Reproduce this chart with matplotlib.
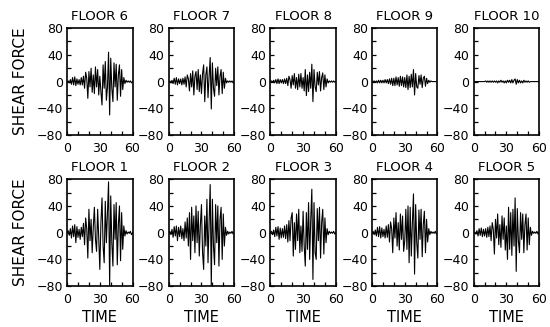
import numpy as np
import matplotlib.pyplot as plt
from matplotlib.ticker import MultipleLocator, FixedLocator

# sample times (s), one per second from 0 to 60
time_s = np.arange(0, 61, 1)

# shear force, one row = 10 s
floor_1 = [0, 3, -4, 6, -8, 10, -6, 12, -15, 9,
           -7, 5, -10, 8, -6, 14, -18, 22, 6, -38,
           35, -12, 20, -30, 8, 38, -10, -28, 35, -8,
           -55, 15, 52, -20, -45, 47, -15, 30, 76, -80,
           55, -15, -50, 42, -10, 45, -48, 12, 40, -42,
           30, -25, 10, -5, 3, -2, 1, -1, 2, -3,
           0]
floor_2 = [0, 2, -3, 5, -7, 9, -5, 10, -12, 8,
           -6, 10, -9, 6, -12, 16, -8, 22, -20, 30,
           -40, 38, -12, 25, -30, 40, -15, 32, -35, 12,
           42, -30, -55, 25, -20, 50, -45, 15, 72, -80,
           50, -20, -48, 42, -15, 40, -50, 20, 38, -40,
           28, -20, 8, -4, 2, -2, 1, -1, 2, -2,
           0]
floor_3 = [0, 2, -3, 4, -6, 8, -5, 9, -10, 7,
           -8, 6, -7, 10, -9, 12, -14, 18, -12, 22,
           30, -35, 15, -25, 28, -12, 35, -30, 10, -28,
           32, -20, -50, 30, -25, 45, -40, 20, 65, -70,
           45, -30, -40, 36, -12, 38, -38, 15, 35, -32,
           22, -15, 6, -3, 2, -1, 1, -1, 2, -2,
           0]
floor_4 = [0, 2, -3, 4, -5, 8, -6, 9, -8, 7,
           -6, 5, -8, 10, -7, 12, -14, 16, 6, -30,
           22, -8, 30, -20, 15, -26, 28, -10, 25, -28,
           -12, 35, -25, 40, -45, 38, -35, 15, 58, -62,
           42, -15, -38, 34, -10, 35, -36, 12, 32, -30,
           20, -14, 6, -3, 2, -1, 1, -1, 2, -2,
           0]
floor_5 = [0, 1, -2, 3, -5, 6, -4, 7, -6, 5,
           -5, 6, -7, 8, -6, 10, -12, 15, 5, -32,
           20, -8, 28, -18, 12, -22, 25, -10, 22, -26,
           10, -40, 38, -25, 30, -34, 35, -20, 52, -58,
           36, -12, -30, 30, -10, 28, -30, 12, 28, -26,
           22, -18, 8, -4, 2, -1, 1, -1, 2, -2,
           0]
floor_6 = [0, 1, -2, 3, -4, 6, -5, 7, -6, 4,
           -4, 3, -5, 6, -5, 8, -10, 14, 5, -25,
           15, -8, 20, -16, 10, -18, 22, -8, 18, -20,
           8, -15, -35, 25, -10, 30, -28, -8, 44, -50,
           35, -10, -30, 28, -8, 26, -28, 10, 25, -22,
           18, -12, 6, -3, 2, -1, 1, -1, 1, -2,
           0]
floor_7 = [0, 1, -2, 2, -3, 5, -4, 6, -5, 4,
           -3, 4, -5, 5, -4, 7, -8, 10, 4, -14,
           12, -8, 16, -20, 8, 15, -12, 18, -15, 10,
           -18, 12, 25, -30, 10, 22, -24, 8, 36, -41,
           28, -10, -22, 20, -6, 22, -20, 8, 18, -18,
           14, -10, 5, -2, 1, -1, 1, -1, 1, -2,
           0]
floor_8 = [0, 1, -1, 2, -2, 3, -3, 4, -3, 3,
           -2, 3, -3, 4, -3, 5, -6, 8, 3, -10,
           9, -5, 12, -10, 6, -12, 11, -8, 12, -10,
           6, -14, 18, -21, 10, -15, 14, -10, 26, -30,
           18, -8, -15, 14, -5, 15, -14, 6, 13, -12,
           10, -8, 4, -2, 1, -1, 1, -1, 1, -1,
           0]
floor_9 = [0, 0, 1, -1, 1, -2, 2, -2, 2, -2,
           2, -2, 3, -2, 3, -3, 4, -4, 5, -6,
           5, -6, 7, -5, 6, -7, 8, -6, 7, -8,
           6, -9, 10, -12, 8, -9, 11, -8, 18, -20,
           12, -8, -10, 9, -4, 10, -9, 5, 8, -7,
           5, -3, 2, -1, 1, 0, 0, 0, 0, 0,
           0]
floor_10 = [0, 0, 0, 0, 0, 0, 0, 0, 0, 0,
            0, 1, -1, 1, -1, 1, -1, 1, -1, 1,
            -1, 1, -2, 1, -1, 2, -1, 1, -2, 1,
            -2, 2, -1, 2, -2, 3, -2, 2, 4, -4,
            3, -2, 2, -2, 1, -2, 2, -1, 1, -1,
            1, -1, 0, 0, 0, 0, 0, 0, 0, 0,
            0]

top_row = [(6, floor_6), (7, floor_7), (8, floor_8), (9, floor_9), (10, floor_10)]
bottom_row = [(1, floor_1), (2, floor_2), (3, floor_3), (4, floor_4), (5, floor_5)]


def style_axes(ax):
    ax.set_xlim(0, 60)
    ax.set_ylim(-80, 80)
    ax.xaxis.set_major_locator(FixedLocator([0, 30, 60]))
    ax.xaxis.set_minor_locator(MultipleLocator(10))
    ax.yaxis.set_major_locator(MultipleLocator(40))
    ax.yaxis.set_minor_locator(MultipleLocator(20))
    ax.tick_params(which='both', direction='in', length=3, width=0.9,
                   top=False, right=False)
    ax.tick_params(axis='x', pad=5, labelsize=9)
    ax.tick_params(axis='y', pad=3, labelsize=9)
    for sp in ax.spines.values():
        sp.set_linewidth(1.2)


def main():
    fig = plt.figure(figsize=(5.5, 3.27), dpi=100)
    left0, step, w, h = 0.122, 0.1848, 0.119, 0.327
    for row, bottom in ((top_row, 0.587), (bottom_row, 0.125)):
        for i, (num, vals) in enumerate(row):
            ax = fig.add_axes([left0 + i * step, bottom, w, h])
            ax.plot(time_s, vals, color='black', lw=0.8)
            style_axes(ax)
            ax.set_title(f'FLOOR {num}', fontsize=9.5, pad=6)
            if i == 0:
                ax.set_ylabel('SHEAR FORCE', fontsize=11, labelpad=6)
            if row is bottom_row:
                ax.set_xlabel('TIME', fontsize=10.5, labelpad=3)
    fig.savefig('out.png', dpi=100)


if __name__ == '__main__':
    main()
